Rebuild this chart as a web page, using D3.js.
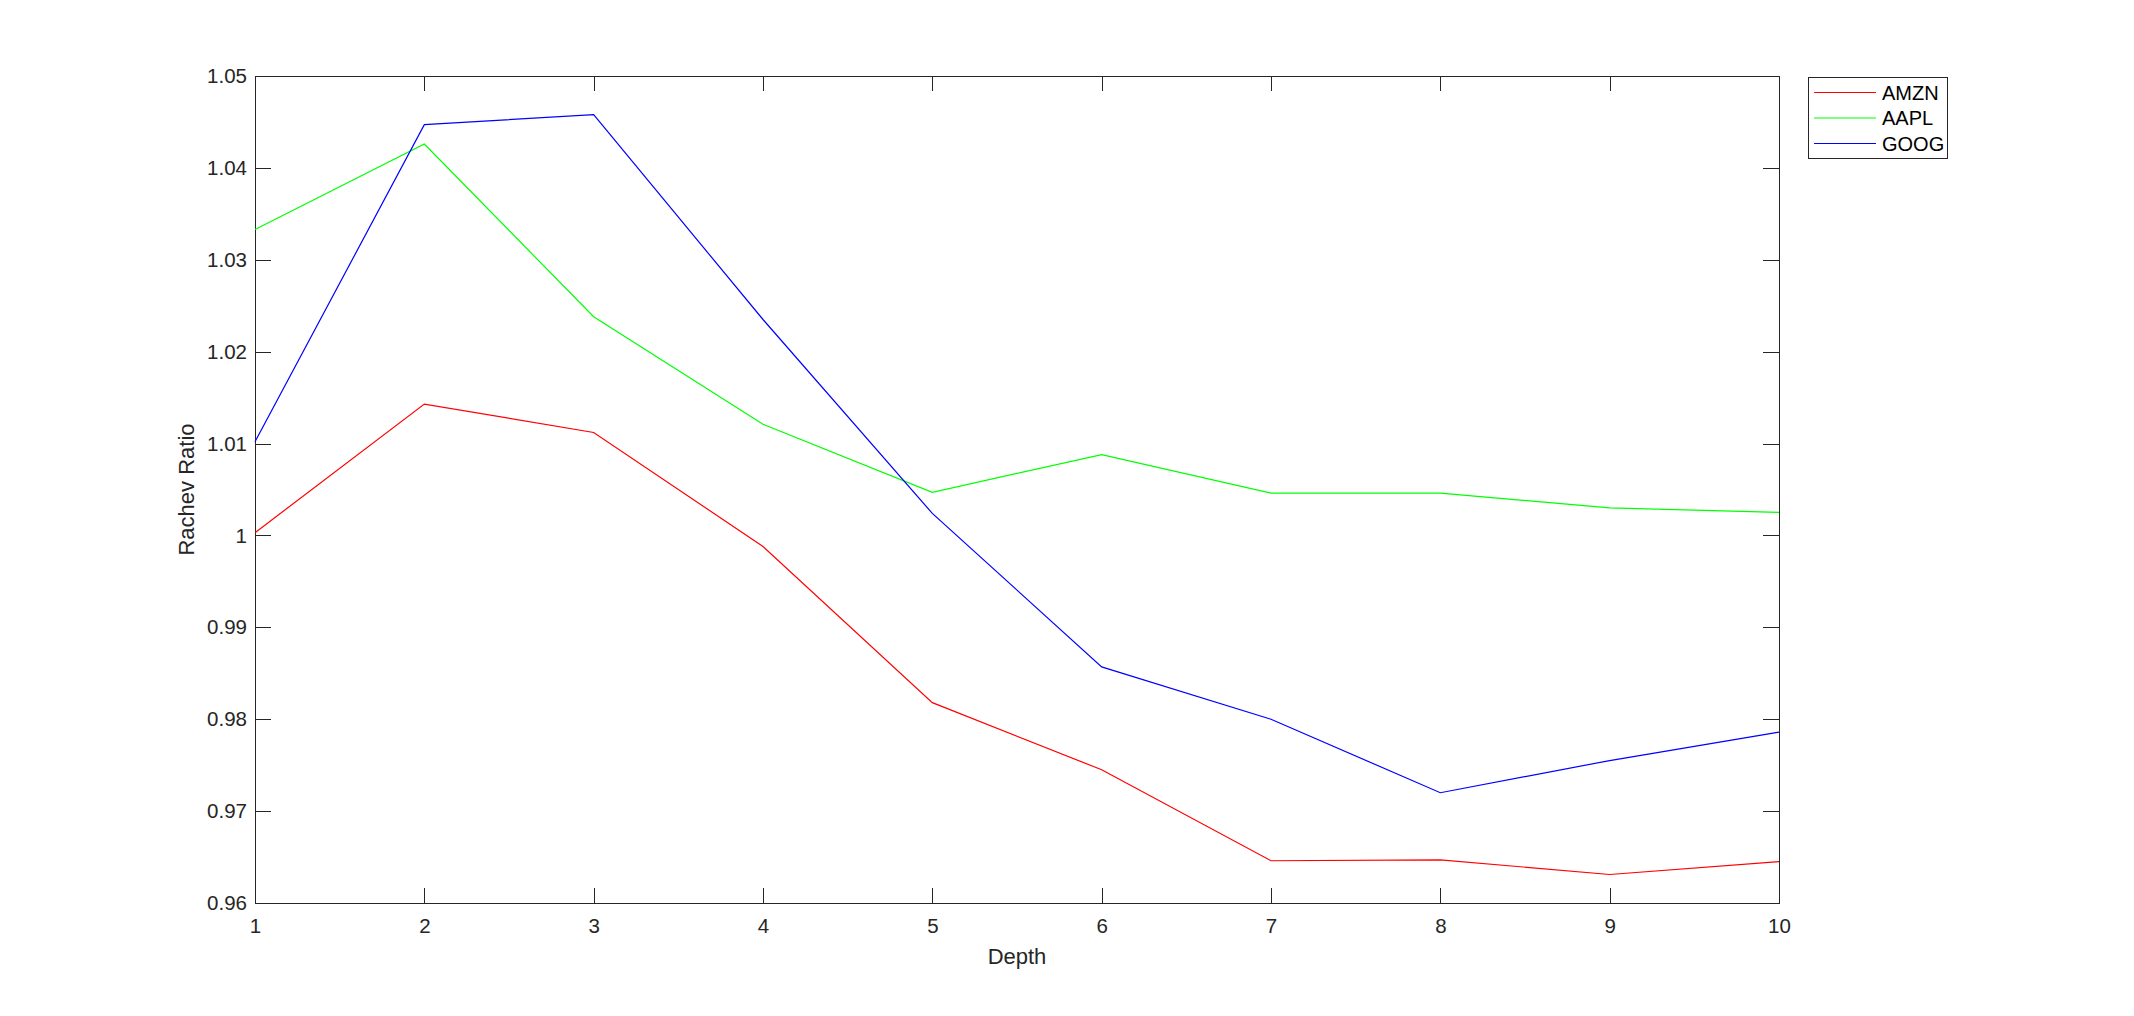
<!DOCTYPE html>
<html>
  <head>
    <meta charset='utf-8'>
    <title>Rachev Ratio by Depth</title>
    <script src='https://d3js.org/d3.v7.min.js'></script>
    <style>
      body { margin: 0; background: #fff; }
      svg text { font-family: 'Liberation Sans', Arial, Helvetica, sans-serif; fill: #262626; }
      .axis path, .axis line { stroke: #262626; shape-rendering: crispEdges; }
      .axis text { font-size: 20.5px; }
    </style>
  </head>
  <body>
    <svg id='linechart'></svg>
  </body>
</html>
<script>

// data
var depths = [1, 2, 3, 4, 5, 6, 7, 8, 9, 10];
var seriesNames = ['AMZN', 'AAPL', 'GOOG'];
var amzn = [1.0003, 1.0143, 1.0112, 0.9988, 0.9818, 0.9745, 0.9646, 0.9647, 0.9631, 0.9645];
var aapl = [1.0333, 1.0426, 1.0238, 1.0121, 1.0047, 1.0088, 1.0046, 1.0046, 1.0030, 1.0025];
var goog = [1.0102, 1.0447, 1.0458, 1.0235, 1.0024, 0.9857, 0.9800, 0.9720, 0.9755, 0.9786];
var yTicks = [0.96, 0.97, 0.98, 0.99, 1, 1.01, 1.02, 1.03, 1.04, 1.05];

var seriesValues = {AMZN: amzn, AAPL: aapl, GOOG: goog};
var color = d3.scaleOrdinal().domain(seriesNames).range(['#ff0000', '#00ff00', '#0000ff']);

drawLineChart();

function drawLineChart(){
    var margin = {top: 76, right: 355, bottom: 113, left: 255},
    width = 2134 - margin.left - margin.right,
    height = 1016 - margin.top - margin.bottom;

    var LineSvg = d3.select('#linechart')
        .attr('width', width + margin.left + margin.right)
        .attr('height', height + margin.top + margin.bottom);

    var svg = LineSvg.append('g')
        .attr('transform', 'translate(' + margin.left + ',' + margin.top + ')');

    var x = d3.scaleLinear().domain([1, 10]).range([0, width]);
    var y = d3.scaleLinear().domain([0.96, 1.05]).range([height, 0]);

    //bottom axis
    svg.append('g')
        .attr('class', 'axis')
        .attr('transform', 'translate(0,' + height + ')')
        .call(d3.axisBottom(x).tickValues(depths).tickFormat(d3.format('d'))
            .tickSizeInner(-15).tickSizeOuter(0).tickPadding(15));

    //left axis
    svg.append('g')
        .attr('class', 'axis')
        .call(d3.axisLeft(y).tickValues(yTicks).tickFormat(d3.format(''))
            .tickSizeInner(-16).tickSizeOuter(0).tickPadding(8));

    //top + right axes, ticks only (box on)
    svg.append('g')
        .attr('class', 'axis')
        .call(d3.axisTop(x).tickValues(depths).tickFormat('')
            .tickSizeInner(-15).tickSizeOuter(0));

    svg.append('g')
        .attr('class', 'axis')
        .attr('transform', 'translate(' + width + ',0)')
        .call(d3.axisRight(y).tickValues(yTicks).tickFormat('')
            .tickSizeInner(-16).tickSizeOuter(0));

    seriesNames.forEach(function(name){
        var Line = d3.line()
            .x(function(d, i) { return x(depths[i]); })
            .y(function(d) { return y(d); });

        svg.append('path')
            .datum(seriesValues[name])
            .attr('class', 'line')
            .attr('d', Line)
            .attr('stroke', color(name))
            .attr('stroke-width', 1.2)
            .attr('fill', 'none');
    });

    //text label for the y-axis
    svg.append('text')
        .attr('transform', 'rotate(-90)')
        .attr('y', -69)
        .attr('x', -(height / 2))
        .attr('dy', '0.35em')
        .style('text-anchor', 'middle')
        .style('font-size', '22px')
        .text('Rachev Ratio');

    //text label for the x axis
    svg.append('text')
        .attr('y', height + 61)
        .attr('x', width / 2)
        .style('text-anchor', 'middle')
        .style('font-size', '22px')
        .text('Depth');

    //legend
    var legend = svg.append('g')
        .attr('transform', 'translate(' + (width + 29) + ',1)');

    legend.append('rect')
        .attr('width', 139)
        .attr('height', 81)
        .attr('fill', '#fff')
        .attr('stroke', '#262626')
        .attr('shape-rendering', 'crispEdges');

    var count = 0;
    seriesNames.forEach(function(name){
        var ly = 15.5 + count * 25.5;
        legend.append('line')
            .attr('x1', 6)
            .attr('x2', 68)
            .attr('y1', ly)
            .attr('y2', ly)
            .attr('stroke', color(name))
            .attr('stroke-width', 1.2);

        legend.append('text')
            .attr('x', 74)
            .attr('y', ly)
            .attr('dy', '0.36em')
            .style('font-size', '20px')
            .style('fill', '#000')
            .text(name);
        count = count + 1;
    });
}

</script>
